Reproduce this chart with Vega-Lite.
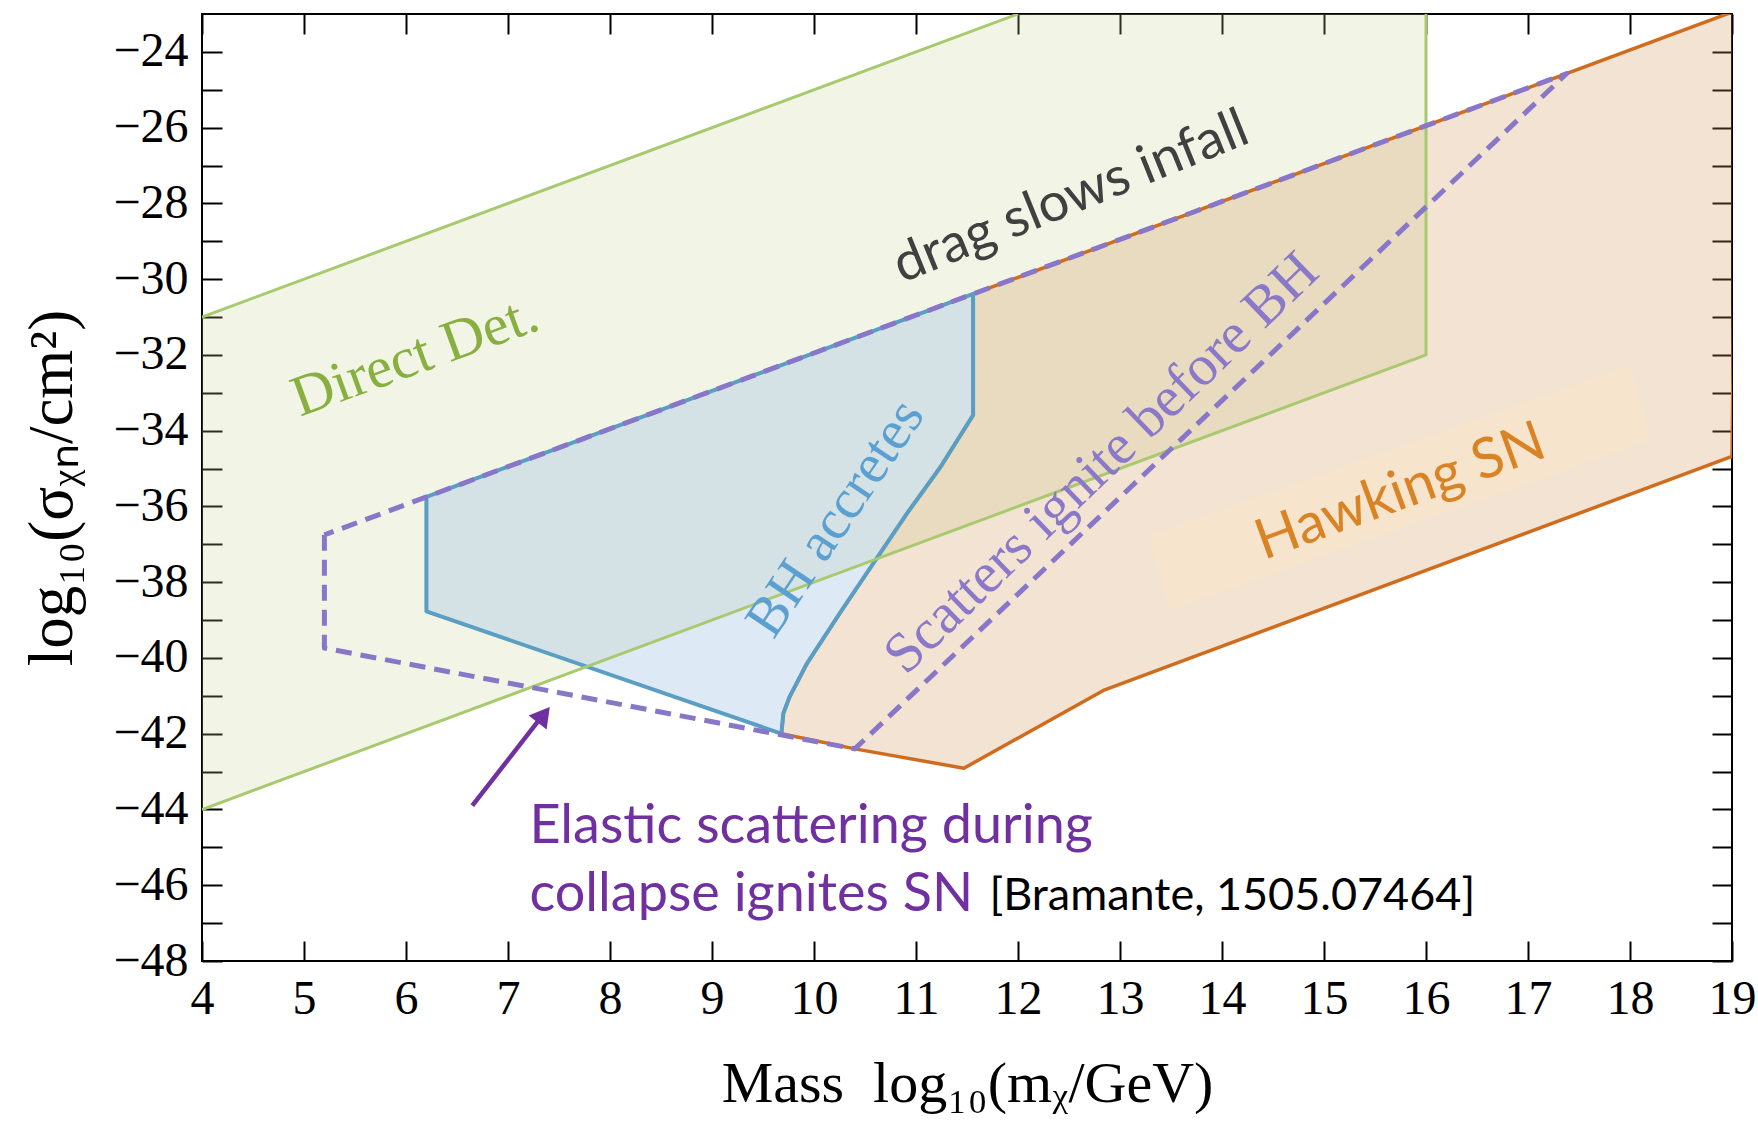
{
  "$schema": "https://vega.github.io/schema/vega-lite/v6.json",
  "width": 1530,
  "height": 947,
  "autosize": "none",
  "padding": {"left": 202, "top": 14, "right": 26, "bottom": 163},
  "background": "white",
  "config": {
    "view": {"stroke": "black", "strokeWidth": 2},
    "axis": {"domain": false, "grid": false, "tickColor": "black", "tickWidth": 2, "labelFont": "Liberation Serif", "labelFontSize": 48, "labelColor": "black", "labelFlush": false, "labelOverlap": false, "titleFont": "Liberation Serif", "titleFontSize": 58, "titleFontWeight": "normal", "titleColor": "black"}
  },
  "datasets": {
    "poly": [
      {"s": "green", "i": 0, "x": 4, "y": -31},
      {"s": "green", "i": 1, "x": 12, "y": -23},
      {"s": "green", "i": 2, "x": 16, "y": -23},
      {"s": "green", "i": 3, "x": 16, "y": -32},
      {"s": "green", "i": 4, "x": 4, "y": -44},
      {"s": "green", "i": 5, "x": 4, "y": -31},
      {"s": "gline", "g": "a", "i": 0, "x": 4, "y": -31},
      {"s": "gline", "g": "a", "i": 1, "x": 12, "y": -23},
      {"s": "gline", "g": "b", "i": 0, "x": 16, "y": -23},
      {"s": "gline", "g": "b", "i": 1, "x": 16, "y": -32},
      {"s": "gline", "g": "b", "i": 2, "x": 4, "y": -44},
      {"s": "orange", "i": 0, "x": 11.56, "y": -30.39},
      {"s": "orange", "i": 1, "x": 19.05, "y": -22.9},
      {"s": "orange", "i": 2, "x": 19, "y": -34.68},
      {"s": "orange", "i": 3, "x": 12.85, "y": -40.84},
      {"s": "orange", "i": 4, "x": 11.47, "y": -42.91},
      {"s": "orange", "i": 5, "x": 10.4, "y": -42.4},
      {"s": "orange", "i": 6, "x": 9.68, "y": -42.0},
      {"s": "orange", "i": 7, "x": 9.7, "y": -41.46},
      {"s": "orange", "i": 8, "x": 9.76, "y": -41.03},
      {"s": "orange", "i": 9, "x": 9.93, "y": -40.15},
      {"s": "orange", "i": 10, "x": 10.25, "y": -38.83},
      {"s": "orange", "i": 11, "x": 10.58, "y": -37.51},
      {"s": "orange", "i": 12, "x": 10.91, "y": -36.19},
      {"s": "orange", "i": 13, "x": 11.24, "y": -34.96},
      {"s": "orange", "i": 14, "x": 11.56, "y": -33.59},
      {"s": "orange", "i": 15, "x": 11.56, "y": -30.39},
      {"s": "blue", "i": 0, "x": 6.2, "y": -35.75},
      {"s": "blue", "i": 1, "x": 11.56, "y": -30.39},
      {"s": "blue", "i": 2, "x": 11.56, "y": -33.59},
      {"s": "blue", "i": 3, "x": 11.24, "y": -34.96},
      {"s": "blue", "i": 4, "x": 10.91, "y": -36.19},
      {"s": "blue", "i": 5, "x": 10.58, "y": -37.51},
      {"s": "blue", "i": 6, "x": 10.25, "y": -38.83},
      {"s": "blue", "i": 7, "x": 9.93, "y": -40.15},
      {"s": "blue", "i": 8, "x": 9.76, "y": -41.03},
      {"s": "blue", "i": 9, "x": 9.7, "y": -41.46},
      {"s": "blue", "i": 10, "x": 9.68, "y": -42.0},
      {"s": "blue", "i": 11, "x": 6.2, "y": -38.77},
      {"s": "blue", "i": 12, "x": 6.2, "y": -35.75},
      {"s": "box", "i": 0, "x": 13.29, "y": -36.76},
      {"s": "box", "i": 1, "x": 18.0, "y": -32.27},
      {"s": "box", "i": 2, "x": 18.2, "y": -34.25},
      {"s": "box", "i": 3, "x": 13.49, "y": -38.74},
      {"s": "box", "i": 4, "x": 13.29, "y": -36.76},
      {"s": "purple", "i": 0, "x": 5.2, "y": -36.75},
      {"s": "purple", "i": 1, "x": 5.2, "y": -39.74},
      {"s": "purple", "i": 2, "x": 10.4, "y": -42.4},
      {"s": "purple", "i": 3, "x": 17.38, "y": -24.57},
      {"s": "purple", "i": 4, "x": 5.2, "y": -36.75},
      {"s": "arrow", "i": 0, "x": 6.65, "y": -43.9},
      {"s": "arrow", "i": 1, "x": 7.33, "y": -41.55},
      {"s": "head", "i": 0, "x": 7.35, "y": -41.5}
    ],
    "labels": [
      {"id": "direct", "t": "Direct Det.", "x": 6.09, "y": -32.05},
      {"id": "drag", "t": "drag slows infall", "x": 12.52, "y": -27.85},
      {"id": "bh", "t": "BH accretes", "x": 10.21, "y": -36.31},
      {"id": "scat", "t": "Scatters ignite before BH", "x": 12.82, "y": -34.86},
      {"id": "hawk", "t": "Hawking SN", "x": 15.75, "y": -35.62},
      {"id": "el", "t": "Elastic scattering during", "x": 7.21, "y": -44.89},
      {"id": "el", "t": "collapse ignites SN", "x": 7.21, "y": -46.69},
      {"id": "bram", "t": "[Bramante, 1505.07464]", "x": 11.72, "y": -46.66}
    ]
  },
  "data": {"name": "poly"},
  "encoding": {
    "x": {"field": "x", "type": "quantitative", "scale": {"domain": [4, 19], "nice": false, "zero": false}, "axis": null},
    "y": {"field": "y", "type": "quantitative", "scale": {"domain": [-48, -23], "nice": false, "zero": false}, "axis": null}
  },
  "layer": [
    {
      "transform": [{"filter": "datum.s == 'green'"}],
      "mark": {"type": "line", "fill": "#c3d38b", "fillOpacity": 0.22, "strokeWidth": 0, "stroke": null, "clip": true},
      "encoding": {
        "order": {"field": "i", "type": "quantitative"},
        "x": {"field": "x", "type": "quantitative", "scale": {"domain": [4, 19], "nice": false, "zero": false},
          "axis": {"orient": "bottom", "values": [4,5,6,7,8,9,10,11,12,13,14,15,16,17,18,19], "tickSize": -20, "labelPadding": 34, "title": "Mass\u00a0\u00a0log₁₀(mᵪ/GeV)", "titlePadding": 32}},
        "y": {"field": "y", "type": "quantitative", "scale": {"domain": [-48, -23], "nice": false, "zero": false},
          "axis": {"orient": "left", "values": [-48,-47,-46,-45,-44,-43,-42,-41,-40,-39,-38,-37,-36,-35,-34,-33,-32,-31,-30,-29,-28,-27,-26,-25,-24], "labelExpr": "datum.value % 2 == 0 ? datum.label : ''", "tickSize": -20, "labelPadding": 34, "title": "log₁₀(σᵪₙ/cm²)", "titleFontSize": 63, "titlePadding": 28}}
      }
    },
    {
      "transform": [{"filter": "datum.s == 'orange'"}],
      "mark": {"type": "line", "fill": "#cf8f4f", "fillOpacity": 0.25, "stroke": "#d06c1e", "strokeWidth": 3.5, "strokeJoin": "round", "clip": true},
      "encoding": {"order": {"field": "i", "type": "quantitative"}}
    },
    {
      "transform": [{"filter": "datum.s == 'blue'"}],
      "mark": {"type": "line", "fill": "#9ec0e2", "fillOpacity": 0.35, "stroke": "#5a9ec4", "strokeWidth": 4, "strokeJoin": "round", "clip": true},
      "encoding": {"order": {"field": "i", "type": "quantitative"}}
    },
    {
      "transform": [{"filter": "datum.s == 'gline'"}],
      "mark": {"type": "line", "stroke": "#a8c96e", "strokeWidth": 3, "strokeJoin": "round", "clip": true},
      "encoding": {"order": {"field": "i", "type": "quantitative"}, "detail": {"field": "g", "type": "nominal"}}
    },
    {
      "transform": [{"filter": "datum.s == 'box'"}],
      "mark": {"type": "line", "fill": "#f7e4cc", "fillOpacity": 1, "strokeWidth": 0, "clip": true},
      "encoding": {"order": {"field": "i", "type": "quantitative"}}
    },
    {
      "transform": [{"filter": "datum.s == 'purple'"}],
      "mark": {"type": "line", "stroke": "#8877c8", "strokeWidth": 5, "strokeDash": [16, 9], "strokeJoin": "round", "clip": true},
      "encoding": {
        "order": {"field": "i", "type": "quantitative"},
        "x": {"field": "x", "type": "quantitative", "scale": {"domain": [4, 19], "nice": false, "zero": false},
          "axis": {"orient": "top", "values": [4,5,6,7,8,9,10,11,12,13,14,15,16,17,18,19], "tickSize": -20, "labels": false, "title": null}},
        "y": {"field": "y", "type": "quantitative", "scale": {"domain": [-48, -23], "nice": false, "zero": false},
          "axis": {"orient": "right", "values": [-48,-47,-46,-45,-44,-43,-42,-41,-40,-39,-38,-37,-36,-35,-34,-33,-32,-31,-30,-29,-28,-27,-26,-25,-24], "tickSize": -20, "labels": false, "title": null}}
      }
    },
    {
      "transform": [{"filter": "datum.s == 'arrow'"}],
      "mark": {"type": "line", "stroke": "#7030a0", "strokeWidth": 4.5},
      "encoding": {"order": {"field": "i", "type": "quantitative"}}
    },
    {
      "transform": [{"filter": "datum.s == 'head'"}],
      "mark": {"type": "point", "shape": "triangle-up", "filled": true, "fill": "#7030a0", "fillOpacity": 1, "strokeWidth": 0, "size": 520, "angle": 38}
    },
    {
      "data": {"name": "labels"},
      "transform": [{"filter": "datum.id == 'direct'"}],
      "mark": {"type": "text", "font": "Liberation Serif", "fontSize": 58, "color": "#87b040", "angle": -20, "align": "center", "baseline": "middle"},
      "encoding": {"text": {"field": "t"}}
    },
    {
      "data": {"name": "labels"},
      "transform": [{"filter": "datum.id == 'drag'"}],
      "mark": {"type": "text", "font": "Lato", "fontSize": 54, "color": "#404040", "angle": -22, "align": "center", "baseline": "middle"},
      "encoding": {"text": {"field": "t"}}
    },
    {
      "data": {"name": "labels"},
      "transform": [{"filter": "datum.id == 'bh'"}],
      "mark": {"type": "text", "font": "Liberation Serif", "fontSize": 56, "color": "#5ba0d0", "angle": -56, "align": "center", "baseline": "middle"},
      "encoding": {"text": {"field": "t"}}
    },
    {
      "data": {"name": "labels"},
      "transform": [{"filter": "datum.id == 'scat'"}],
      "mark": {"type": "text", "font": "Liberation Serif", "fontSize": 57, "color": "#8a78c8", "angle": -44, "align": "center", "baseline": "middle"},
      "encoding": {"text": {"field": "t"}}
    },
    {
      "data": {"name": "labels"},
      "transform": [{"filter": "datum.id == 'hawk'"}],
      "mark": {"type": "text", "font": "Lato", "fontSize": 56, "color": "#d98324", "angle": -20, "align": "center", "baseline": "middle"},
      "encoding": {"text": {"field": "t"}}
    },
    {
      "data": {"name": "labels"},
      "transform": [{"filter": "datum.id == 'el'"}],
      "mark": {"type": "text", "font": "Lato", "fontSize": 54, "color": "#7030a0", "align": "left", "baseline": "alphabetic"},
      "encoding": {"text": {"field": "t"}}
    },
    {
      "data": {"name": "labels"},
      "transform": [{"filter": "datum.id == 'bram'"}],
      "mark": {"type": "text", "font": "Lato", "fontSize": 45, "color": "black", "align": "left", "baseline": "alphabetic"},
      "encoding": {"text": {"field": "t"}}
    }
  ],
  "resolve": {"axis": {"x": "independent", "y": "independent"}}
}
